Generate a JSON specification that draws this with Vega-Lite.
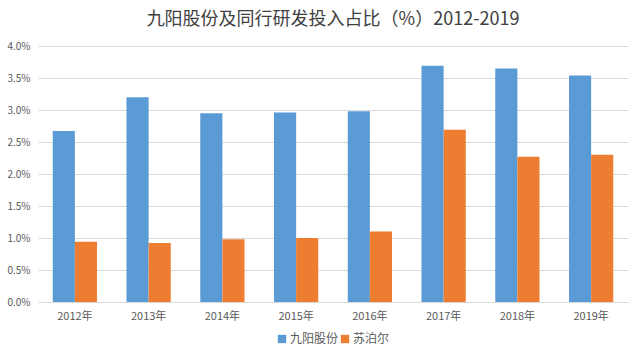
{
  "$schema": "https://vega.github.io/schema/vega-lite/v6.json",
  "width": 640,
  "height": 356,
  "autosize": {"type": "fit", "contains": "padding"},
  "padding": {"left": 6, "right": 12, "top": 11, "bottom": 11},
  "background": "white",
  "title": {
    "text": "九阳股份及同行研发投入占比（%）2012-2019",
    "font": "Noto Sans CJK SC",
    "fontSize": 18,
    "fontWeight": "normal",
    "color": "#404040",
    "anchor": "middle",
    "offset": 12
  },
  "data": {
    "values": [
      {"year": "2012年", "company": "九阳股份", "value": 0.0267},
      {"year": "2012年", "company": "苏泊尔", "value": 0.0094},
      {"year": "2013年", "company": "九阳股份", "value": 0.0320},
      {"year": "2013年", "company": "苏泊尔", "value": 0.0092},
      {"year": "2014年", "company": "九阳股份", "value": 0.0295},
      {"year": "2014年", "company": "苏泊尔", "value": 0.0098},
      {"year": "2015年", "company": "九阳股份", "value": 0.0296},
      {"year": "2015年", "company": "苏泊尔", "value": 0.0100},
      {"year": "2016年", "company": "九阳股份", "value": 0.0298},
      {"year": "2016年", "company": "苏泊尔", "value": 0.0110},
      {"year": "2017年", "company": "九阳股份", "value": 0.0369},
      {"year": "2017年", "company": "苏泊尔", "value": 0.0269},
      {"year": "2018年", "company": "九阳股份", "value": 0.0365},
      {"year": "2018年", "company": "苏泊尔", "value": 0.0227},
      {"year": "2019年", "company": "九阳股份", "value": 0.0354},
      {"year": "2019年", "company": "苏泊尔", "value": 0.0230}
    ]
  },
  "mark": {"type": "bar"},
  "encoding": {
    "x": {
      "field": "year",
      "type": "nominal",
      "sort": null,
      "scale": {"paddingInner": 0.4, "paddingOuter": 0.2},
      "axis": {
        "title": null,
        "labelAngle": 0,
        "ticks": false,
        "domainColor": "#d9d9d9",
        "labelColor": "#595959",
        "labelFont": "Noto Sans CJK SC",
        "labelFontSize": 11,
        "labelPadding": 8
      }
    },
    "xOffset": {"field": "company", "type": "nominal", "sort": ["九阳股份", "苏泊尔"]},
    "y": {
      "field": "value",
      "type": "quantitative",
      "scale": {"domain": [0, 0.04], "nice": false},
      "axis": {
        "title": null,
        "format": ".1%",
        "values": [0, 0.005, 0.01, 0.015, 0.02, 0.025, 0.03, 0.035, 0.04],
        "domain": false,
        "ticks": false,
        "gridColor": "#d9d9d9",
        "labelColor": "#595959",
        "labelFont": "Noto Sans CJK SC",
        "labelFontSize": 10,
        "labelPadding": 8
      }
    },
    "color": {
      "field": "company",
      "type": "nominal",
      "sort": ["九阳股份", "苏泊尔"],
      "scale": {"domain": ["九阳股份", "苏泊尔"], "range": ["#5B9BD5", "#ED7D31"]},
      "legend": {
        "title": null,
        "orient": "bottom",
        "direction": "horizontal",
        "symbolType": "square",
        "symbolSize": 70,
        "symbolStrokeWidth": 0,
        "labelFont": "Noto Sans CJK SC",
        "labelFontSize": 12,
        "labelColor": "#595959",
        "columnPadding": 0,
        "gridAlign": "none",
        "labelOffset": 2,
        "offset": 12
      }
    }
  },
  "config": {
    "view": {"stroke": null},
    "legend": {"layout": {"bottom": {"anchor": "middle"}}}
  }
}
